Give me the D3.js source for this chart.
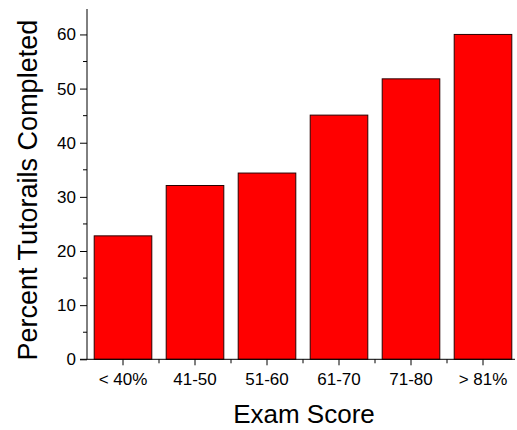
<!DOCTYPE html>
<html><head><meta charset="utf-8">
<script src="https://cdn.jsdelivr.net/npm/d3@7"></script>
<style>body{margin:0;background:#fff}svg{display:block;font-family:Arial,"Liberation Sans",sans-serif}</style>
</head><body><svg id="c" width="517" height="430"></svg>
<script>
const categories = ["< 40%", "41-50", "51-60", "61-70", "71-80", "> 81%"];
const values = [22.8, 32.1, 34.4, 45.1, 51.8, 60.0];
const yTicks = [0, 10, 20, 30, 40, 50, 60];
const yMinorTicks = [5, 15, 25, 35, 45, 55];

const svg = d3.select("#c");
const x0 = 87, x1 = 519, yTop = 9, yBot = 359.3;
const x = d3.scaleBand().domain(categories).range([x0, x1]).paddingInner(0.2).paddingOuter(0.1);
const y = d3.scaleLinear().domain([0, 64.7]).range([yBot, yTop]);

svg.append("g").selectAll("rect").data(values).join("rect")
  .attr("x", (d, i) => x(categories[i]))
  .attr("width", x.bandwidth())
  .attr("y", d => y(d))
  .attr("height", d => y(0) - y(d))
  .attr("fill", "#ff0000").attr("stroke", "#2a0000").attr("stroke-width", 1);

// Y axis
const ya = svg.append("g").attr("transform", `translate(${x0},0)`)
  .call(d3.axisLeft(y).tickValues(yTicks).tickSize(7).tickPadding(4).tickSizeOuter(0));
ya.select(".domain").attr("d", `M0,${yTop}V${yBot}`);
ya.selectAll("text").attr("font-size", 17).attr("font-family", "Arial, Liberation Sans, sans-serif").attr("fill", "#000");
ya.selectAll("line").attr("stroke", "#000");
svg.append("g").selectAll("line").data(yMinorTicks).join("line")
  .attr("x1", x0 - 4).attr("x2", x0).attr("y1", d => y(d)).attr("y2", d => y(d)).attr("stroke", "#000");

// X axis
const xa = svg.append("g").attr("transform", `translate(0,${yBot})`)
  .call(d3.axisBottom(x).tickSize(6).tickPadding(8).tickSizeOuter(0));
xa.select(".domain").attr("d", `M${x0 - 7},0H515`);
xa.selectAll("text").attr("font-size", 17).attr("font-family", "Arial, Liberation Sans, sans-serif").attr("fill", "#000");
const step = x.step();
const bounds = categories.slice(1).map((c, i) => x(c) - (step - x.bandwidth()) / 2);
svg.append("g").selectAll("line").data(bounds).join("line")
  .attr("x1", d => d).attr("x2", d => d).attr("y1", yBot).attr("y2", yBot + 4).attr("stroke", "#000");

svg.append("text").attr("x", 304).attr("y", 423).attr("text-anchor", "middle")
  .attr("font-size", 26).text("Exam Score");
svg.append("text").attr("transform", `translate(37,${(yTop + yBot) / 2 + 6}) rotate(-90)`)
  .attr("text-anchor", "middle").attr("font-size", 27).text("Percent Tutorails Completed");
</script></body></html>
